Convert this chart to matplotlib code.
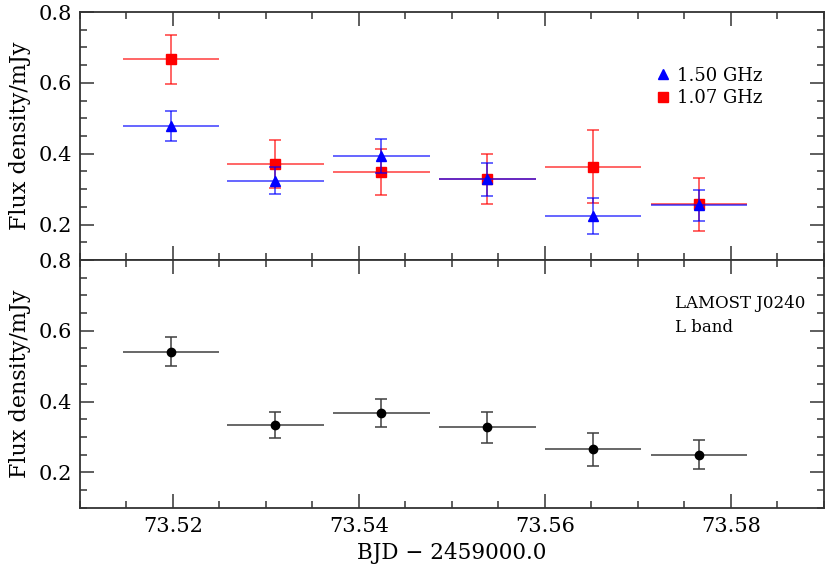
"""
Radio light curve of LAMOST J0240 in L band (two panels, shared time axis)
"""
import numpy as np
import matplotlib
matplotlib.use('Agg')
import matplotlib.pyplot as plt
from matplotlib.ticker import MultipleLocator
from matplotlib.lines import Line2D

# time bins (BJD - 2459000.0) and half bin width
bjd = [73.5198, 73.5310, 73.5424, 73.5538, 73.5652, 73.5766]
bin_half = [0.0052, 0.0052, 0.0052, 0.0052, 0.0052, 0.0052]

# top panel: sub-bands
flux_150 = [0.478, 0.324, 0.393, 0.328, 0.224, 0.254]
err_150 = [0.042, 0.038, 0.048, 0.046, 0.050, 0.044]
flux_107 = [0.666, 0.371, 0.349, 0.328, 0.363, 0.257]
err_107 = [0.070, 0.068, 0.065, 0.070, 0.103, 0.074]

# bottom panel: full L band
flux_l = [0.541, 0.333, 0.368, 0.327, 0.265, 0.249]
err_l = [0.041, 0.037, 0.040, 0.043, 0.046, 0.041]

plt.rcParams['font.family'] = 'DejaVu Serif'
plt.rcParams['font.size'] = 15


def style_axis(ax):
    ax.set_xlim(73.51, 73.59)
    ax.set_ylim(0.1, 0.8)
    ax.xaxis.set_major_locator(MultipleLocator(0.02))
    ax.xaxis.set_minor_locator(MultipleLocator(0.005))
    ax.yaxis.set_major_locator(MultipleLocator(0.2))
    ax.yaxis.set_minor_locator(MultipleLocator(0.05))
    ax.tick_params(which='both', direction='in', top=True, right=True,
                   width=1.1, color='#333333', labelsize=15)
    ax.tick_params(which='major', length=10)
    ax.tick_params(which='minor', length=5)
    ax.tick_params(axis='y', pad=6)
    ax.tick_params(axis='x', pad=7)
    for s in ax.spines.values():
        s.set_linewidth(1.3)
        s.set_color('#333333')
    ax.set_ylabel('Flux density/mJy', fontsize=16, labelpad=5)


def draw_points(ax, flux, err, marker, color, ecolor, msize):
    # horizontal bin bars without caps, vertical errors with caps
    ax.errorbar(bjd, flux, xerr=bin_half, fmt='none', ecolor=ecolor,
                elinewidth=1.3, capsize=0)
    ax.errorbar(bjd, flux, yerr=err, fmt='none', ecolor=ecolor,
                elinewidth=1.3, capsize=4.5, capthick=1.3)
    ax.plot(bjd, flux, marker, ls='none', color=color, markersize=msize)


def main():
    fig = plt.figure(figsize=(8.3, 5.64), dpi=100)
    ax1 = fig.add_axes([0.0964, 0.539, 0.896, 0.4397])
    ax2 = fig.add_axes([0.0964, 0.0998, 0.896, 0.4392])

    # top panel
    draw_points(ax1, flux_107, err_107, 's', 'red', (1, 0, 0, 0.65), 6.5)
    draw_points(ax1, flux_150, err_150, '^', 'blue', (0, 0, 1, 0.65), 7)
    style_axis(ax1)
    ax1.tick_params(labelbottom=False)
    ax1.set_yticks([0.2, 0.4, 0.6, 0.8])

    handles = [Line2D([], [], ls='none', marker='^', color='blue', markersize=7),
               Line2D([], [], ls='none', marker='s', color='red', markersize=6.5)]
    ax1.legend(handles, ['1.50 GHz', '1.07 GHz'], loc='upper left',
               bbox_to_anchor=(0.772, 0.78), frameon=False, fontsize=13,
               handlelength=1.0, handletextpad=0.25, labelspacing=0.25,
               borderpad=0, borderaxespad=0)

    # bottom panel
    draw_points(ax2, flux_l, err_l, 'o', 'black', (0.25, 0.25, 0.25, 0.85), 6)
    style_axis(ax2)
    ax2.set_yticks([0.2, 0.4, 0.6, 0.8])
    ax2.text(0.800, 0.825, 'LAMOST J0240', transform=ax2.transAxes,
             fontsize=12, va='center')
    ax2.text(0.800, 0.727, 'L band', transform=ax2.transAxes,
             fontsize=12, va='center')
    ax2.set_xlabel('BJD \u2212 2459000.0', fontsize=15.5, labelpad=4)

    fig.savefig('out.png', dpi=100)
    plt.close(fig)


if __name__ == "__main__":
    main()
